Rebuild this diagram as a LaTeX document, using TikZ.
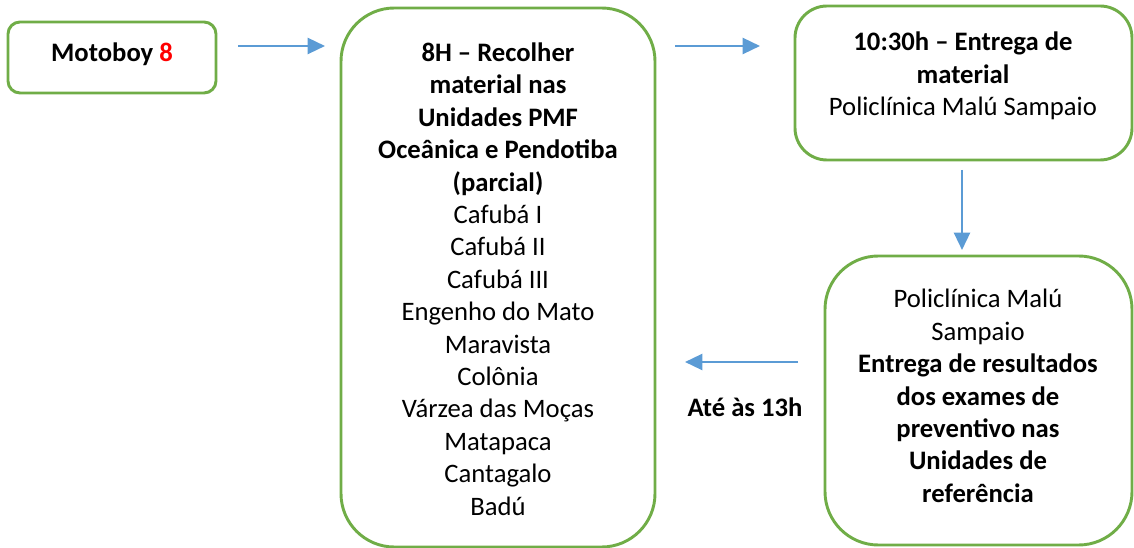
\documentclass[tikz,border=0pt]{standalone}
\usepackage{fontspec}
\setmainfont{Carlito}
\usetikzlibrary{arrows.meta,fit}

\definecolor{boxgreen}{RGB}{112,173,71}
\definecolor{arrowblue}{RGB}{91,155,213}

\tikzset{
  etapa/.style={draw=boxgreen, line width=2.2pt, inner sep=0pt, align=center},
  seta/.style={draw=arrowblue, line width=1.8pt, -{Triangle[length=13pt,width=12pt]}}
}

\begin{document}
\begin{tikzpicture}[x=0.75pt,y=-0.75pt,font=\fontsize{20}{24.3}\selectfont]
\useasboundingbox (0,0) rectangle (1134,548);

\node[etapa, rounded corners=9pt, fit={(8,22) (216,93)}] (moto) {};
\node (mototxt) at (112,54) {\textbf{Motoboy \textcolor{red}{8}}};

\node[etapa, rounded corners=40pt, fit={(341,8) (655,547)}] (recolher) {};
\node[align=center] (recolhertxt) at (498,279)
  {\textbf{8H -- Recolher}\\ \textbf{material nas}\\ \textbf{Unidades PMF}\\
   \textbf{Oceânica e Pendotiba}\\ \textbf{(parcial)}\\
   Cafubá I\\ Cafubá II\\ Cafubá III\\ Engenho do Mato\\ Maravista\\ Colônia\\
   Várzea das Moças\\ Matapaca\\ Cantagalo\\ Badú};

\node[etapa, rounded corners=24pt, fit={(795,6) (1132,160)}] (entrega) {};
\node[align=center] (entregatxt) at (963,76)
  {\textbf{10:30h -- Entrega de}\\ \textbf{material}\\ Policlínica Malú Sampaio};

\node[etapa, rounded corners=40pt, fit={(825,256) (1132,545)}] (resultado) {};
\node[align=center] (resultadotxt) at (978,396)
  {Policlínica Malú\\ Sampaio\\ \textbf{Entrega de resultados}\\ \textbf{dos exames de}\\
   \textbf{preventivo nas}\\ \textbf{Unidades de}\\ \textbf{referência}};

\coordinate (s1) at (238,46);
\coordinate (e1) at (325,46);
\coordinate (s2) at (675,46);
\coordinate (e2) at (760,46);
\coordinate (s3) at (962,170);
\coordinate (e3) at (962,250);
\coordinate (s4) at (798,362);
\coordinate (e4) at (685,362);

\draw[seta] (s1)--(e1);
\draw[seta] (s2)--(e2);
\draw[seta] (s3)--(e3);
\draw[seta] (s4)--(e4);

\node (prazo) at (745,407) {\textbf{Até às 13h}};

\end{tikzpicture}
\end{document}
